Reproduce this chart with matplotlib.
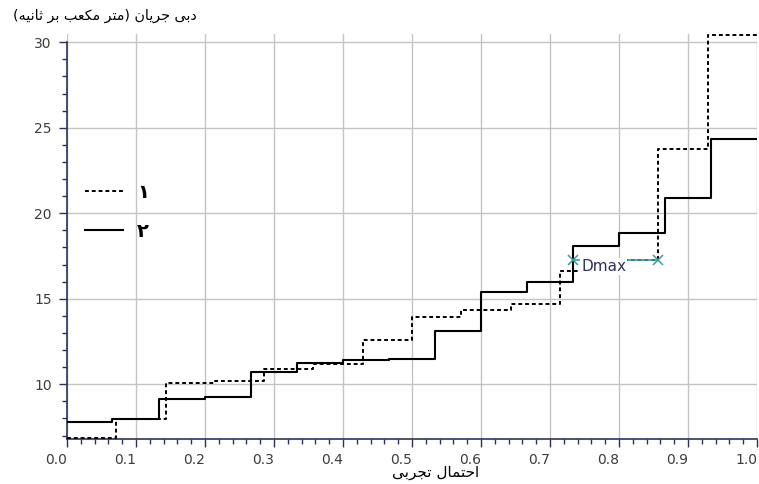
import matplotlib.pyplot as plt
import numpy as np
from matplotlib.lines import Line2D
from matplotlib.ticker import MultipleLocator

# -----------------------------
# Data
# -----------------------------
# series 1 (dashed): empirical probability edges and flow
prob_1 = [0.0, 0.071, 0.143, 0.214, 0.286, 0.357, 0.429, 0.5, 0.571, 0.643,
          0.714, 0.786, 0.857, 0.929, 1.0]
flow_1 = [6.84, 7.95, 10.08, 10.18, 10.9, 11.2, 12.6, 13.93, 14.36, 14.69,
          16.6, 17.25, 23.76, 30.41]

# series 2 (solid)
prob_2 = [0.0, 0.065, 0.133, 0.2, 0.266, 0.333, 0.4, 0.466, 0.533, 0.6,
          0.666, 0.733, 0.8, 0.866, 0.933, 1.0]
flow_2 = [7.78, 7.99, 9.16, 9.24, 10.72, 11.27, 11.43, 11.47, 13.13, 15.41,
          15.98, 18.08, 18.87, 20.9, 24.37]

legend_labels = ["۱", "۲"]
x_ticks = [0.0, 0.1, 0.2, 0.3, 0.4, 0.5, 0.6, 0.7, 0.8, 0.9, 1.0]
y_ticks = [10, 15, 20, 25, 30]

dmax_from = 0.733
dmax_to = 0.857
dmax_level = 17.25

y_label = "دبی جریان (متر مکعب بر ثانیه)"
x_label = "احتمال تجربی"

# -----------------------------
# Minimal Persian shaping (matplotlib has no RTL / joining)
# iso, final, initial, medial
# -----------------------------
FORMS = {
    "ا": ("\uFE8D", "\uFE8E", None, None),
    "ب": ("\uFE8F", "\uFE90", "\uFE91", "\uFE92"),
    "ت": ("\uFE95", "\uFE96", "\uFE97", "\uFE98"),
    "ث": ("\uFE99", "\uFE9A", "\uFE9B", "\uFE9C"),
    "ج": ("\uFE9D", "\uFE9E", "\uFE9F", "\uFEA0"),
    "ح": ("\uFEA1", "\uFEA2", "\uFEA3", "\uFEA4"),
    "د": ("\uFEA9", "\uFEAA", None, None),
    "ر": ("\uFEAD", "\uFEAE", None, None),
    "ع": ("\uFEC9", "\uFECA", "\uFECB", "\uFECC"),
    "ک": ("\uFB8E", "\uFB8F", "\uFB90", "\uFB91"),
    "ل": ("\uFEDD", "\uFEDE", "\uFEDF", "\uFEE0"),
    "م": ("\uFEE1", "\uFEE2", "\uFEE3", "\uFEE4"),
    "ن": ("\uFEE5", "\uFEE6", "\uFEE7", "\uFEE8"),
    "ه": ("\uFEE9", "\uFEEA", "\uFEEB", "\uFEEC"),
    "ی": ("\uFBFC", "\uFBFD", "\uFBFE", "\uFBFF"),
}


def shape(text):
    out = []
    for i, ch in enumerate(text):
        if ch not in FORMS:
            out.append(ch)
            continue
        prev = text[i - 1] if i > 0 else ""
        nxt = text[i + 1] if i + 1 < len(text) else ""
        join_prev = prev in FORMS and FORMS[prev][2] is not None
        join_next = nxt in FORMS and FORMS[ch][2] is not None
        iso, fin, ini, med = FORMS[ch]
        if join_prev and join_next:
            out.append(med)
        elif join_prev:
            out.append(fin)
        elif join_next:
            out.append(ini)
        else:
            out.append(iso)
    visual = "".join(reversed(out))
    return visual.translate(str.maketrans("()", ")("))


# -----------------------------
# Figure
# -----------------------------
plt.rcParams["font.family"] = ["DejaVu Sans"]
axis_col = "#2e3160"
text_col = "#3c3c3c"

fig = plt.figure(figsize=(7.59, 4.84), dpi=100)
ax = fig.add_axes([0.0883, 0.093, 0.9091, 0.8374])

ax.step(prob_1, np.append(flow_1, flow_1[-1]), where="post", color="black",
        lw=1.4, linestyle=(0, (2, 1.5)), zorder=3)
ax.step(prob_2, np.append(flow_2, flow_2[-1]), where="post", color="black",
        lw=1.5, zorder=3)

# Dmax marker
ax.plot([dmax_from, dmax_to], [dmax_level, dmax_level], color="#3a9e9a",
        lw=1.2, marker="x", ms=7, mew=1.1, zorder=5)
ax.text(0.745, 16.9, "Dmax", color=axis_col, fontsize=11, va="center",
        ha="left", zorder=6,
        bbox=dict(fc="white", ec="none", pad=0.5))

ax.set_xlim(0, 1)
ax.set_ylim(6.8, 30.5)
ax.set_xticks(x_ticks)
ax.set_xticklabels([f"{v:.1f}" for v in x_ticks], ha="right")
ax.set_yticks(y_ticks)
ax.xaxis.set_minor_locator(MultipleLocator(0.02))
ax.yaxis.set_minor_locator(MultipleLocator(1))

ax.grid(True, which="major", color="#c4c4c4", lw=1)
ax.set_axisbelow(True)

for side in ["top", "right"]:
    ax.spines[side].set_visible(False)
for side in ["left", "bottom"]:
    ax.spines[side].set_color(axis_col)
    ax.spines[side].set_linewidth(1.2)
ax.spines["left"].set_bounds(6.8, 30)

ax.tick_params(which="major", length=6, width=1, color=axis_col,
               labelcolor=text_col, labelsize=10)
ax.tick_params(which="minor", length=3.3, width=1, color=axis_col)
ax.tick_params(axis="y", which="major", pad=5)
ax.tick_params(axis="x", which="major", pad=4)

handles = [Line2D([], [], color="black", lw=1.4, linestyle=(0, (2, 1.5))),
           Line2D([], [], color="black", lw=1.5)]
ax.legend(handles, legend_labels, loc="center left",
          bbox_to_anchor=(0.0, 0.56), frameon=False,
          prop=dict(size=14, weight="bold"),
          handlelength=2.0, handletextpad=0.7, labelspacing=1.0)

fig.text(197 / 759, 1 - 16 / 484, shape(y_label), ha="right", va="center",
         fontsize=10.3, color="black")
fig.text(436 / 759, 1 - 473 / 484, shape(x_label), ha="center",
         va="center", fontsize=11, color="black")

fig.savefig("out.png", dpi=100)
